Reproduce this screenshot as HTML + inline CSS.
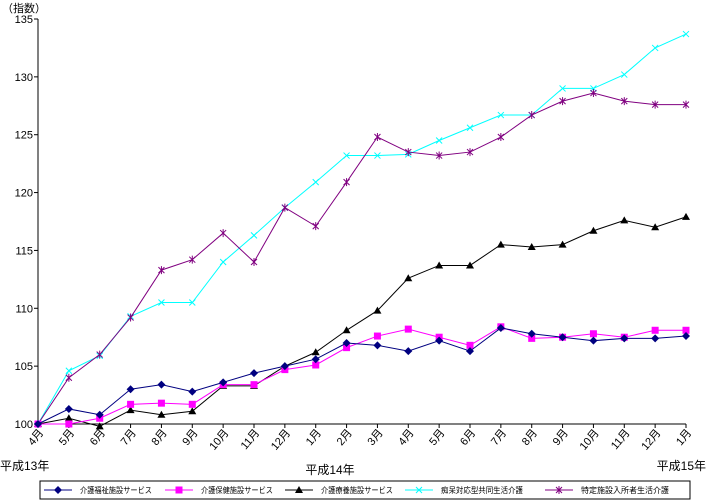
<!DOCTYPE html>
<html><head><meta charset="utf-8"><style>
body{margin:0;background:#fff;}
svg{display:block;font-family:"Liberation Sans","Noto Sans CJK JP",sans-serif;}
</style></head><body>
<svg id="chart" width="706" height="503">
<rect x="0" y="0" width="706" height="503" fill="#fff"/>
<g id="axes"></g><g id="series"></g><g id="legend"></g>
</svg>
<script>
const categories=["4月","5月","6月","7月","8月","9月","10月","11月","12月","1月","2月","3月","4月","5月","6月","7月","8月","9月","10月","11月","12月","1月"];
const yTicks=[100,105,110,115,120,125,130,135];
const seriesNames=["介護福祉施設サービス","介護保健施設サービス","介護療養施設サービス","痴呆対応型共同生活介護","特定施設入所者生活介護"];
const welfare=[100,101.3,100.8,103.0,103.4,102.8,103.6,104.4,105.0,105.6,107.0,106.8,106.3,107.2,106.3,108.3,107.8,107.5,107.2,107.4,107.4,107.6];
const health=[100,100,100.5,101.7,101.8,101.7,103.4,103.4,104.7,105.1,106.6,107.6,108.2,107.5,106.8,108.4,107.4,107.5,107.8,107.5,108.1,108.1];
const medical=[100,100.5,99.8,101.2,100.8,101.1,103.3,103.3,105.0,106.2,108.1,109.8,112.6,113.7,113.7,115.5,115.3,115.5,116.7,117.6,117.0,117.9];
const dementia=[100,104.6,105.9,109.3,110.5,110.5,114.0,116.3,118.7,120.9,123.2,123.2,123.3,124.5,125.6,126.7,126.7,129.0,129.0,130.2,132.5,133.7];
const facility=[100,104.0,106.0,109.2,113.3,114.2,116.5,114.0,118.7,117.1,120.9,124.8,123.5,123.2,123.5,124.8,126.7,127.9,128.6,127.9,127.6,127.6];

const NS="http://www.w3.org/2000/svg";
const X0=38,X1=686,Y0=424,Y1=19,YMIN=100,YMAX=135;
const xs=i=>X0+(X1-X0)*i/(categories.length-1);
const ys=v=>Y0-(v-YMIN)/(YMAX-YMIN)*(Y0-Y1);
function mk(tag,attrs,parent){const e=document.createElementNS(NS,tag);for(const k in attrs)e.setAttribute(k,attrs[k]);parent.appendChild(e);return e;}
const axes=document.getElementById('axes'),sg=document.getElementById('series'),lg=document.getElementById('legend');

let e=mk('line',{x1:X0,y1:Y1,x2:X0,y2:Y0,stroke:'#000','stroke-width':1},axes);


e=mk('line',{x1:X0,y1:Y0,x2:X1,y2:Y0,stroke:'#000','stroke-width':1},axes);


yTicks.forEach(v=>{
  const y=ys(v);
  let t=mk('line',{x1:X0-4,y1:y,x2:X0,y2:y,stroke:'#000'},axes);
  
  
  let l=mk('text',{x:X0-5,y:y+4,'text-anchor':'end','font-size':11},axes);l.textContent=v;
  
  
});
let u=mk('text',{x:2,y:12,'font-size':11},axes);u.textContent="（指数）";


categories.forEach((c,i)=>{
  const x=xs(i);
  let t=mk('line',{x1:x,y1:Y0,x2:x,y2:Y0+4,stroke:'#000'},axes);
  
  
  let l=mk('text',{x:0,y:0,'text-anchor':'end','font-size':11,transform:`translate(${x+6},${Y0+9}) rotate(-50)`},axes);l.textContent=c;
  
  
});
[["平成13年",0,470,'start'],["平成14年",330,474,'middle'],["平成15年",706,470,'end']].forEach(a=>{
  let l=mk('text',{x:a[1],y:a[2],'font-size':12,'text-anchor':a[3]},axes);l.textContent=a[0];
  
  
});

const cols=["#000080","#ff00ff","#000000","#00ffff","#800080"];
const datas=[welfare,health,medical,dementia,facility];
function marker(k,x,y,p){
  const c=cols[k];
  if(k===0)return mk('polygon',{points:`${x},${y-4} ${x+4},${y} ${x},${y+4} ${x-4},${y}`,fill:c},p);
  if(k===1)return mk('rect',{x:x-3.5,y:y-3.5,width:7,height:7,fill:c},p);
  if(k===2)return mk('polygon',{points:`${x},${y-4} ${x+4},${y+3} ${x-4},${y+3}`,fill:c},p);
  if(k===3)return mk('path',{d:`M${x-3},${y-3}L${x+3},${y+3}M${x+3},${y-3}L${x-3},${y+3}`,stroke:c,'stroke-width':1},p);
  return mk('path',{d:`M${x-3},${y-3}L${x+3},${y+3}M${x+3},${y-3}L${x-3},${y+3}M${x},${y-4}L${x},${y+4}`,stroke:c,'stroke-width':1},p);
}
const snames=['series-welfare','series-health','series-medical','series-dementia','series-facility'];
[3,4,2,1,0].forEach(k=>{
  const g=mk('g',{},sg);
  
  
  const d=datas[k].map((v,i)=>xs(i)+','+ys(v)).join(' ');
  const pl=mk('polyline',{points:d,fill:'none',stroke:cols[k],'stroke-width':1},g);
  
  
  datas[k].forEach((v,i)=>{
    const m=marker(k,xs(i),ys(v),g);
    
    
  });
});

const box=mk('rect',{x:40,y:481,width:650,height:18,fill:'#fff',stroke:'#000'},lg);


const lx=[44,165,285,405,545];
const tw=[72,72,72,82,88];
seriesNames.forEach((n,k)=>{
  const g=mk('g',{},lg);
  
  
  mk('line',{x1:lx[k],y1:490,x2:lx[k]+28,y2:490,stroke:cols[k]},g);
  marker(k,lx[k]+14,490,g);
  const t=mk('text',{x:lx[k]+36,y:493,'font-size':8,textLength:tw[k],lengthAdjust:'spacingAndGlyphs'},g);t.textContent=n;
});
</script>
</body></html>
